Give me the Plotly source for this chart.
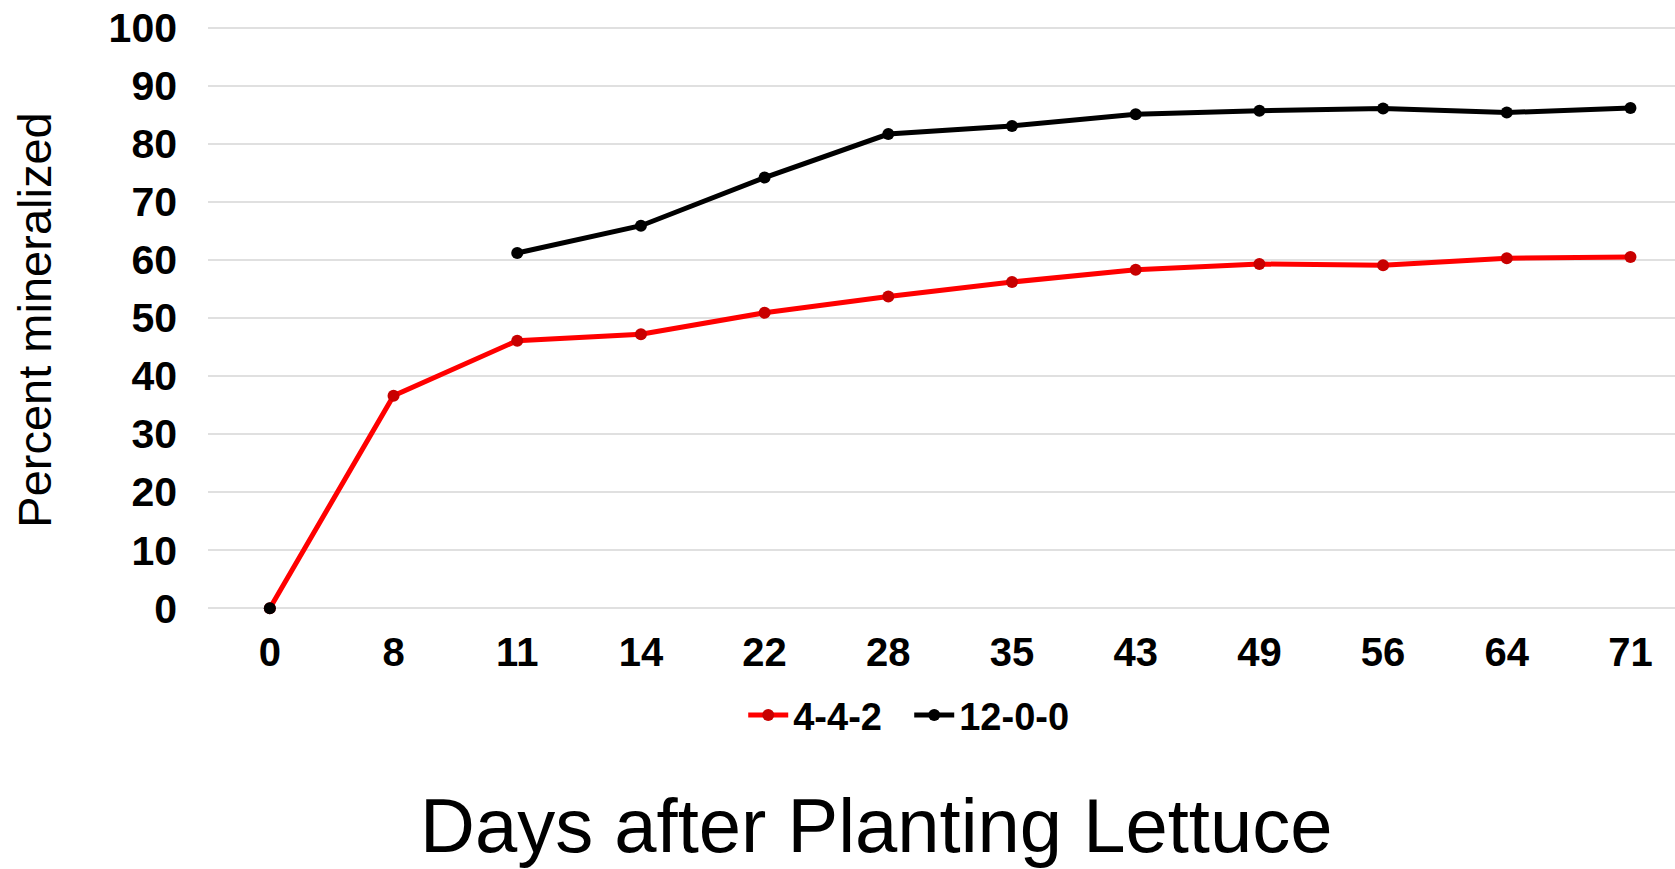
import plotly.graph_objects as go

# Sampling days (categorical x axis)
days = ["0", "8", "11", "14", "22", "28", "35", "43", "49", "56", "64", "71"]

# Percent of nitrogen mineralized for each fertilizer
series_442 = [0, 36.6, 46.1, 47.2, 50.9, 53.7, 56.2, 58.3, 59.3, 59.1, 60.3, 60.5]
series_1200 = [0, None, 61.2, 65.9, 74.2, 81.7, 83.1, 85.1, 85.7, 86.1, 85.4, 86.2]

FONT = "Arial, Liberation Sans, sans-serif"

fig = go.Figure()
fig.add_trace(go.Scatter(
    x=days, y=series_442, name="4-4-2", mode="lines+markers",
    line=dict(color="#FF0000", width=5),
    marker=dict(color="#C80000", size=12),
    cliponaxis=False, connectgaps=False,
))
fig.add_trace(go.Scatter(
    x=days, y=series_1200, name="12-0-0", mode="lines+markers",
    line=dict(color="#000000", width=5),
    marker=dict(color="#000000", size=12),
    cliponaxis=False, connectgaps=False,
))

fig.update_layout(
    width=1675, height=869,
    margin=dict(l=208, r=0, t=22, b=254.5),
    plot_bgcolor="white", paper_bgcolor="white",
    font=dict(family=FONT, color="black"),
    showlegend=True,
    legend=dict(
        orientation="h", x=0.478, y=-0.171, xanchor="center", yanchor="middle",
        font=dict(family=FONT, size=38, weight="bold", color="black"),
        itemwidth=40, tracegroupgap=0,
        entrywidth=111, entrywidthmode="pixels",
    ),
    xaxis=dict(
        type="category", range=[-0.5, 11.36],
        showgrid=False, showline=False, zeroline=False,
        tickfont=dict(family=FONT, size=40, weight="bold", color="black"),
        ticks="", ticklabelstandoff=11,
    ),
    yaxis=dict(
        range=[-1, 101], tickvals=list(range(0, 101, 10)),
        showgrid=True, gridcolor="#E0E0E0", gridwidth=2,
        showline=False, zeroline=False,
        tickfont=dict(family=FONT, size=41, weight="bold", color="black"),
        ticks="", ticklabelstandoff=30,
    ),
    annotations=[
        dict(text="Percent mineralized", xref="paper", yref="paper",
             x=-0.118, y=0.497, xanchor="center", yanchor="middle",
             textangle=-90, showarrow=False,
             font=dict(family=FONT, size=47, color="black")),
        dict(text="Days after Planting Lettuce", xref="paper", yref="paper",
             x=0.456, y=-0.357, xanchor="center", yanchor="middle",
             showarrow=False,
             font=dict(family=FONT, size=76, color="black")),
    ],
)

fig.write_html("out.html")
